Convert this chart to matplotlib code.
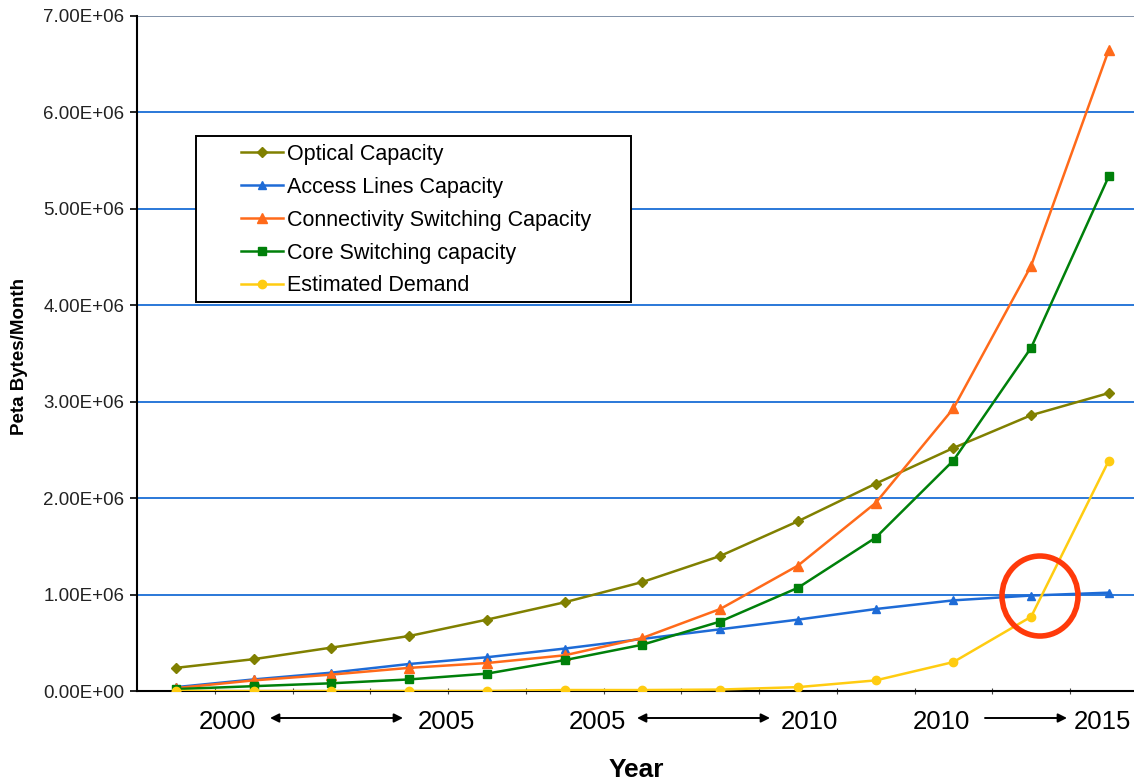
import matplotlib.pyplot as plt
from matplotlib.patches import Ellipse, Rectangle
import numpy as np

plt.rcParams['font.family'] = ['Liberation Sans', 'DejaVu Sans']

# 13 points per series, category axis
optical = [0.24, 0.33, 0.45, 0.57, 0.74, 0.92, 1.13, 1.40, 1.76, 2.15, 2.52, 2.86, 3.09]
access = [0.04, 0.12, 0.19, 0.28, 0.35, 0.44, 0.54, 0.64, 0.74, 0.85, 0.94, 0.99, 1.02]
connectivity = [0.03, 0.11, 0.17, 0.24, 0.29, 0.37, 0.55, 0.85, 1.30, 1.95, 2.93, 4.41, 6.65]
core = [0.02, 0.05, 0.08, 0.12, 0.18, 0.32, 0.48, 0.72, 1.07, 1.59, 2.39, 3.56, 5.34]
demand = [0.0, 0.0, 0.0, 0.0, 0.0, 0.01, 0.01, 0.015, 0.04, 0.11, 0.30, 0.77, 2.39]

series_names = ["Optical Capacity", "Access Lines Capacity", "Connectivity Switching Capacity",
                "Core Switching capacity", "Estimated Demand"]
colors = ["#808000", "#1E6BD6", "#FF6A1A", "#00800A", "#FFCC11"]
markers = ["D", "^", "^", "s", "o"]
msizes = [5, 6, 7, 6, 6]

yticks = [0, 1e6, 2e6, 3e6, 4e6, 5e6, 6e6, 7e6]
ytick_labels = ["0.00E+00", "1.00E+06", "2.00E+06", "3.00E+06", "4.00E+06",
                "5.00E+06", "6.00E+06", "7.00E+06"]

year_labels = [(227, "2000"), (446, "2005"), (597, "2005"), (809, "2010"), (941, "2010"), (1102, "2015")]

fig = plt.figure(figsize=(11.34, 7.82), dpi=100)
W, H = 1134, 782
ax = fig.add_axes([137/W, (H-691)/H, (W-137)/W, (691-16)/H])

x = np.arange(len(optical))
all_series = [optical, access, connectivity, core, demand]
for vals, name, c, m, ms in zip(all_series, series_names, colors, markers, msizes):
    ax.plot(x, np.array(vals)*1e6, color=c, marker=m, markersize=ms, linewidth=1.8,
            label=name, zorder=3)

ax.set_xlim(-0.5, -0.5 + (W-137)/77.75)
ax.set_ylim(0, 7e6)

ax.set_yticks(yticks)
ax.set_yticklabels(ytick_labels, fontsize=13.5, color="#222222")
ax.tick_params(axis='y', direction='out', length=5, width=1.2, pad=4)
for yv in yticks[1:-1]:
    ax.axhline(yv, color="#2A78D8", linewidth=1.4, zorder=1)
ax.axhline(7e6, color="#8090A8", linewidth=1.4, zorder=1)

ax.set_xticks([])
ax.set_xticks(np.arange(0.5, 12.5, 1), minor=True)
ax.tick_params(axis='x', which='minor', direction='inout', length=5, width=0.8, colors="#444444")

for s in ["top", "right"]:
    ax.spines[s].set_visible(False)
ax.spines["left"].set_linewidth(1.5)
ax.spines["bottom"].set_linewidth(1.5)

# year labels with arrows
trans = ax.get_xaxis_transform()
def xdata(px):
    return -0.5 + (px - 137) / 77.75
for px, t in year_labels:
    ax.text(xdata(px), -(722-691)/675, t, transform=trans, ha="center", va="center", fontsize=18.5)
ay = -(718-691)/675
for x0, x1, style in [(270, 403, "<|-|>"), (637, 770, "<|-|>"), (985, 1067, "-|>")]:
    ax.annotate("", xy=(xdata(x1), ay), xytext=(xdata(x0), ay), xycoords=trans,
                textcoords=trans,
                arrowprops=dict(arrowstyle=style, color="black", lw=1.4,
                                mutation_scale=13, shrinkA=0, shrinkB=0))

fig.text(636/W, 1 - 770/H, "Year", ha="center", va="center", fontsize=19, fontweight="bold")
fig.text(20/W, 1 - 356/H, "Peta Bytes/Month", ha="center", va="center", fontsize=13.5,
         rotation=90, fontweight="bold")

# red highlight circle
circ = Ellipse((xdata(1040), 0.985e6), width=76/77.75, height=80/96.43*1e6,
               fill=False, edgecolor="#FF3A0A", linewidth=4, zorder=5)
ax.add_patch(circ)

# legend: frame drawn separately, entries placed inside
box = Rectangle((196/W, 1 - 302/H), (631-196)/W, (302-136)/H, transform=fig.transFigure,
                facecolor="white", edgecolor="black", linewidth=1.4, zorder=6)
fig.patches.append(box)
leg = fig.legend(loc="upper left", bbox_to_anchor=(241/W, 1 - 144/H),
                 fontsize=15.5, frameon=False, handlelength=1.95,
                 borderpad=0, labelspacing=0.55, handletextpad=0.2, borderaxespad=0)
leg.set_zorder(7)

fig.savefig("out.png", dpi=100)
